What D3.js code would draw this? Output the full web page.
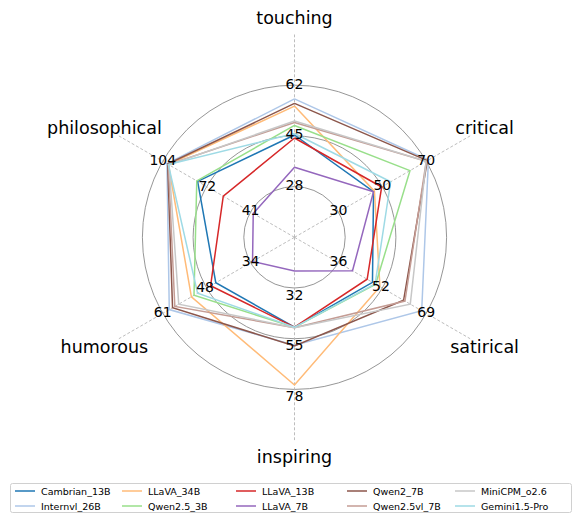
<!DOCTYPE html>
<html><head><meta charset="utf-8">
<script src="https://cdn.jsdelivr.net/npm/d3@7"></script>
<style>
body{margin:0;background:#fff;}
text{font-family:"DejaVu Sans",sans-serif;}
</style>
</head><body>
<svg id="chart" width="582" height="517"></svg>
<script>
// ---- data ----
const axesNames = ["touching","critical","satirical","inspiring","humorous","philosophical"];
const axisTicks = [[28,45,62],[30,50,70],[36,52,69],[32,55,78],[34,48,61],[41,72,104]];
const modelNames = ["Cambrian_13B","Internvl_26B","LLaVA_34B","Qwen2.5_3B","LLaVA_13B","LLaVA_7B","Qwen2_7B","Qwen2.5vl_7B","MiniCPM_o2.6","Gemini1.5-Pro"];
const modelColors = ["#1f77b4","#aec7e8","#ffbb78","#98df8a","#d62728","#9467bd","#8c564b","#c49c94","#c7c7c7","#9edae5"];
// values per axis: touching, critical, satirical, inspiring, humorous, philosophical
const Cambrian_13B  = [45.3, 46.0, 48.8, 49.8, 44.7, 79.0];
const Internvl_26B  = [57.4, 71.0, 67.3, 58.0, 59.0, 101.0];
const LLaVA_34B     = [55.0, 46.4, 51.6, 76.0, 52.2, 100.0];
const Qwen25_3B     = [48.5, 62.6, 50.0, 49.8, 51.4, 79.6];
const LLaVA_13B     = [44.3, 49.7, 46.8, 49.8, 46.3, 60.6];
const LLaVA_7B      = [34.5, 46.0, 41.3, 24.3, 33.4, 39.1];
const Qwen2_7B      = [55.9, 70.5, 60.5, 58.3, 58.0, 100.5];
const Qwen25vl_7B   = [49.5, 70.0, 61.0, 50.0, 57.3, 100.0];
const MiniCPM_o26   = [50.0, 70.0, 63.0, 50.0, 56.1, 99.5];
const Gemini15_Pro  = [45.8, 53.8, 49.8, 49.8, 50.3, 100.0];
const seriesValues = [Cambrian_13B, Internvl_26B, LLaVA_34B, Qwen25_3B, LLaVA_13B, LLaVA_7B, Qwen2_7B, Qwen25vl_7B, MiniCPM_o26, Gemini15_Pro];

// ---- layout ----
const svg = d3.select("#chart");
const cx = 294.5, cy = 237.3, unit = 50.7;
const angleOf = i => Math.PI/2 - i*Math.PI/3;
const scales = axisTicks.map(t => d3.scaleLinear().domain([t[0], t[2]]).range([unit, 3*unit]));
const pt = (i, r) => [cx + r*Math.cos(angleOf(i)), cy - r*Math.sin(angleOf(i))];

const g = svg.append("g");
// circles
[1,2,3].forEach(k => g.append("circle").attr("cx", cx).attr("cy", cy).attr("r", k*unit)
  .attr("fill","none").attr("stroke","#8a8a8a").attr("stroke-width",0.9));
// spokes
axesNames.forEach((a,i) => {
  const p = pt(i, 4*unit);
  g.append("line").attr("x1",cx).attr("y1",cy).attr("x2",p[0]).attr("y2",p[1])
    .attr("stroke","#b5b5b5").attr("stroke-width",0.9).attr("stroke-dasharray","3,2");
});
// series
const line = d3.line();
seriesValues.forEach((vals, s) => {
  const pts = vals.map((v,i) => pt(i, scales[i](v)));
  pts.push(pts[0]);
  g.append("path").attr("d", line(pts)).attr("fill","none")
    .attr("stroke", modelColors[s]).attr("stroke-width",1.5).attr("stroke-linejoin","miter");
});
// tick labels
axisTicks.forEach((ticks, i) => {
  ticks.forEach(t => {
    const p = pt(i, scales[i](t));
    const dy = (i === 3) ? 6.5 : -1.5;
    g.append("text").attr("x", p[0]).attr("y", p[1] + dy)
      .attr("text-anchor","middle").attr("dominant-baseline","central")
      .attr("font-size","14px").attr("fill","#000").text(t);
  });
});
// axis labels
axesNames.forEach((a,i) => {
  const p = pt(i, 219.5);
  g.append("text").attr("x", p[0]).attr("y", p[1])
    .attr("text-anchor","middle").attr("dominant-baseline","central")
    .attr("font-size","17.5px").attr("fill","#000").text(a);
});

// legend
const lg = svg.append("g");
lg.append("rect").attr("x",10.5).attr("y",483.5).attr("width",561).attr("height",29)
  .attr("rx",2).attr("fill","#fff").attr("stroke","#d0d0d0").attr("stroke-width",1);
const colX = [15, 122, 236, 347, 455];
const rowY = [491, 506];
modelNames.forEach((m, s) => {
  const col = Math.floor(s/2), row = s % 2;
  const x = colX[col], y = rowY[row];
  lg.append("line").attr("x1",x).attr("x2",x+20).attr("y1",y).attr("y2",y)
    .attr("stroke",modelColors[s]).attr("stroke-width",1.5);
  lg.append("text").attr("x",x+26).attr("y",y).attr("dominant-baseline","central")
    .attr("font-size","9.5px").attr("fill","#000").text(m);
});
</script>
</body></html>
